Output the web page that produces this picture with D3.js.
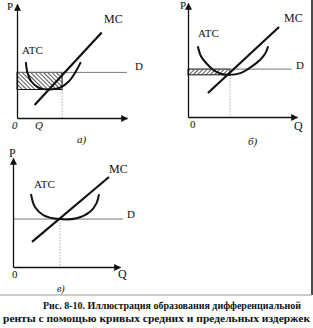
<!DOCTYPE html>
<html>
<head>
<meta charset="utf-8">
<script src="https://cdn.jsdelivr.net/npm/d3@7"></script>
<style>
  html, body { margin: 0; padding: 0; background: #fff; }
  svg { display: block; }
  text { font-family: "Liberation Serif", "DejaVu Serif", serif; fill: #111; }
</style>
</head>
<body>
<div id="viz"></div>
<script>
'use strict';

// panel captions
const panelNames = ['а)', 'б)', 'в)'];

// ATC curves, [Q, P]
const atcA = [[0.8, 4.9], [0.95, 4.0], [1.3, 3.2], [2.0, 2.65], [2.9, 2.5], [3.9, 2.65], [4.7, 3.2], [5.3, 4.0], [5.8, 4.9]];
const atcB = [[0.9, 6.2], [1.2, 5.3], [1.7, 4.7], [2.3, 4.15], [3.0, 3.8], [3.85, 3.7], [4.8, 3.85], [5.8, 4.4], [6.6, 5.0], [7.1, 5.6], [7.35, 6.2]];
const atcC = [[1.68, 6.7], [2.05, 5.5], [2.83, 4.77], [4.33, 4.4], [5.95, 4.47], [7.2, 5.07], [7.8, 5.84], [8.04, 6.67]];

// MC lines, two end points [Q, P]
const mcA = [[1.6, 1.15], [7.7, 7.5]];
const mcB = [[1.83, 2.1], [8.35, 7.9]];
const mcC = [[1.78, 2.3], [8.97, 8.26]];

// price line D, minimum of ATC, equilibrium Q, end of D line
const dLevel = [4.0, 4.2, 4.4];
const atcMin = [2.5, 3.7, 4.4];
const qStar = [4.1, 3.85, 4.4];
const dEnd = [10, 9.5, 10.3];

const captionLines = [
  'Рис. 8-10. Иллюстрация образования дифференциальной',
  'ренты с помощью кривых средних и предельных издержек'
];

const W = 313, H = 328;

const svg = d3.select('#viz')
  .append('svg')
    .attr('width', W)
    .attr('height', H);

const defs = svg.append('defs');

defs.append('marker')
    .attr('id', 'arrow')
    .attr('viewBox', '0 0 10 10')
    .attr('refX', 9)
    .attr('refY', 5)
    .attr('markerWidth', 7)
    .attr('markerHeight', 7)
    .attr('markerUnits', 'userSpaceOnUse')
    .attr('orient', 'auto')
  .append('path')
    .attr('d', 'M0,0 L10,5 L0,10 z')
    .attr('fill', '#111');

function hatch(id, angle) {
  defs.append('pattern')
      .attr('id', id)
      .attr('patternUnits', 'userSpaceOnUse')
      .attr('width', 3)
      .attr('height', 3)
      .attr('patternTransform', `rotate(${angle})`)
    .append('line')
      .attr('x1', 0).attr('y1', 0)
      .attr('x2', 0).attr('y2', 3)
      .attr('stroke', '#111')
      .attr('stroke-width', 1.4);
}
hatch('hatchA', -45);
hatch('hatchB', 45);

// frame of each small chart (pixels of the page)
const frames = [
  {x0: 17, x1: 127, y0: 118, y1: 4, hatch: 'hatchA'},
  {x0: 188, x1: 297, y0: 117, y1: 3, hatch: 'hatchB'},
  {x0: 13, x1: 120, y0: 267, y1: 158, hatch: null}
];
const atcs = [atcA, atcB, atcC];
const mcs = [mcA, mcB, mcC];

frames.forEach((f, i) => {
  const x = d3.scaleLinear().domain([0, 10]).range([f.x0, f.x1]);
  const y = d3.scaleLinear().domain([0, 10]).range([f.y0, f.y1]);
  const g = svg.append('g');

  // hatched rent rectangle
  if (f.hatch) {
    g.append('rect')
      .attr('x', x(0))
      .attr('y', y(dLevel[i]))
      .attr('width', x(qStar[i]) - x(0))
      .attr('height', y(atcMin[i]) - y(dLevel[i]))
      .attr('fill', `url(#${f.hatch})`)
      .attr('stroke', '#111')
      .attr('stroke-width', 1);
  }

  // D line
  g.append('line')
    .attr('x1', x(0)).attr('x2', x(dEnd[i]))
    .attr('y1', y(dLevel[i])).attr('y2', y(dLevel[i]))
    .attr('stroke', '#777')
    .attr('stroke-width', 1);

  // dotted drop to Q
  g.append('line')
    .attr('x1', x(qStar[i])).attr('x2', x(qStar[i]))
    .attr('y1', y(atcMin[i])).attr('y2', y(0))
    .attr('stroke', '#999')
    .attr('stroke-width', 0.8)
    .attr('stroke-dasharray', '1.5,1.5');

  // axes
  const ax = g.append('g')
    .attr('transform', `translate(0,${y(0)})`)
    .call(d3.axisBottom(x).tickValues([]).tickSizeOuter(0));
  const ay = g.append('g')
    .attr('transform', `translate(${x(0)},0)`)
    .call(d3.axisLeft(y).tickValues([]).tickSizeOuter(0));
  [ax, ay].forEach(a => a.select('.domain')
    .attr('stroke', '#111')
    .attr('stroke-width', 1.3)
    .attr('marker-end', 'url(#arrow)'));

  // ATC
  g.append('path')
    .datum(atcs[i])
    .attr('fill', 'none')
    .attr('stroke', '#111')
    .attr('stroke-width', 2)
    .attr('d', d3.line()
      .x(d => x(d[0]))
      .y(d => y(d[1]))
      .curve(d3.curveCatmullRom.alpha(0.5)));

  // MC
  g.append('path')
    .datum(mcs[i])
    .attr('fill', 'none')
    .attr('stroke', '#111')
    .attr('stroke-width', 2.2)
    .attr('d', d3.line().x(d => x(d[0])).y(d => y(d[1])));
});

// labels
const labels = [
  {t: 'P', x: 7, y: 10, s: 11},
  {t: 'MC', x: 104, y: 23, s: 12},
  {t: 'ATC', x: 22, y: 54, s: 11},
  {t: 'D', x: 135, y: 70, s: 11},
  {t: '0', x: 12, y: 129, s: 11, it: true},
  {t: 'Q', x: 35, y: 129, s: 11, it: true},
  {t: panelNames[0], x: 77, y: 143, s: 11, it: true},

  {t: 'P', x: 180, y: 9, s: 11},
  {t: 'MC', x: 284, y: 22, s: 12},
  {t: 'ATC', x: 198, y: 37, s: 11},
  {t: 'D', x: 296, y: 69, s: 11},
  {t: '0', x: 190, y: 128, s: 11},
  {t: 'Q', x: 294, y: 130, s: 12},
  {t: panelNames[1], x: 248, y: 145, s: 11, it: true},

  {t: 'P', x: 9, y: 157, s: 12},
  {t: 'MC', x: 109, y: 173, s: 12},
  {t: 'ATC', x: 34, y: 188, s: 11},
  {t: 'D', x: 127, y: 218, s: 11},
  {t: '0', x: 12, y: 278, s: 11},
  {t: 'Q', x: 118, y: 278, s: 12},
  {t: panelNames[2], x: 57, y: 292, s: 10, it: true}
];

svg.append('g')
  .selectAll('text')
  .data(labels)
  .join('text')
    .attr('x', d => d.x)
    .attr('y', d => d.y)
    .attr('font-size', d => d.s)
    .attr('font-style', d => d.it ? 'italic' : 'normal')
    .text(d => d.t);

// frame lines
svg.append('line')
  .attr('x1', 312).attr('x2', 312)
  .attr('y1', 0).attr('y2', 295)
  .attr('stroke', '#111')
  .attr('stroke-width', 1.5);
svg.append('line')
  .attr('x1', 0).attr('x2', 312)
  .attr('y1', 295).attr('y2', 295)
  .attr('stroke', '#999')
  .attr('stroke-width', 1);

// caption
const capPos = [{x: 43, y: 309, w: 258}, {x: 3, y: 322, w: 307}];
svg.append('g')
  .selectAll('text')
  .data(captionLines)
  .join('text')
    .attr('x', (d, i) => capPos[i].x)
    .attr('y', (d, i) => capPos[i].y)
    .attr('font-size', 10)
    .attr('font-weight', 'bold')
    .attr('textLength', (d, i) => capPos[i].w)
    .attr('lengthAdjust', 'spacingAndGlyphs')
    .text(d => d);
</script>
</body>
</html>
